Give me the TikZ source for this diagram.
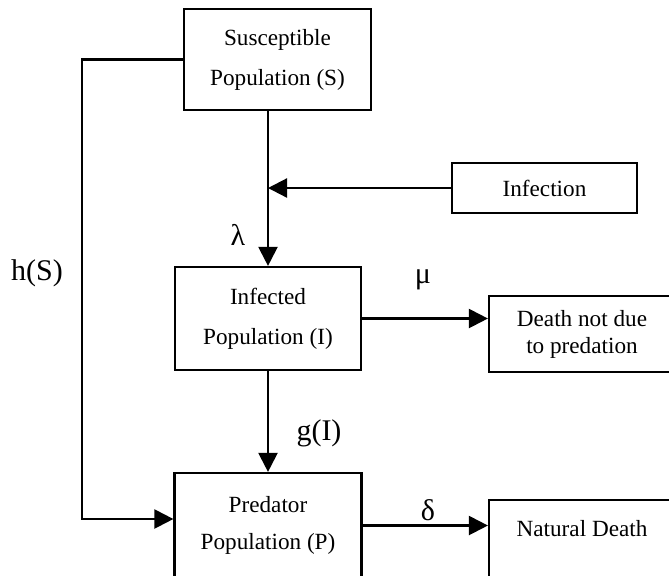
\documentclass[tikz,border=0pt]{standalone}
\usepackage{fontspec}
\setmainfont{Liberation Serif}
\usetikzlibrary{positioning, arrows.meta}

\begin{document}
\begin{tikzpicture}[x=0.5pt, y=-0.5pt,
  box/.style={draw, line width=1.1pt, align=center, inner sep=0pt, font=\fontsize{11.6}{20}\selectfont},
  arr/.style={line width=1.1pt, -{Triangle[length=9.5pt, width=9.5pt]}},
  lbl/.style={inner sep=0pt, font=\fontsize{15}{18}\selectfont}]
\useasboundingbox (0,0) rectangle (669,575);
\clip (0,0) rectangle (669,575);
% compartments
\node[box, minimum width=93.5pt, minimum height=50.5pt] (S) at (277.5,59.5) {Susceptible\\Population (S)};
\node[box, minimum width=93pt, minimum height=51.5pt] (I) at (268,318.5) {Infected\\Population (I)};
\node[box, minimum width=93.5pt, minimum height=52.5pt, font=\fontsize{11.6}{18.5}\selectfont] (P) at (268,525.5) {Predator\\Population (P)};
\node[box, minimum width=92.5pt, minimum height=25pt] (inf) at (544.5,188) {Infection};
\node[box, minimum width=93pt, minimum height=38pt, font=\fontsize{11.6}{13.5}\selectfont] (D) at (582,334) {Death not due\\to predation};
\node[box, minimum width=93pt, anchor=north, inner ysep=10pt, text height=8pt, text depth=22.5pt] (nd) at (582,499) {Natural Death};
% flows
\draw[arr] (S.south -| I.north) -- (I.north);
\draw[arr] (inf.west) -- (inf.west -| I.north);
\draw[arr] (I.east) -- (I.east -| D.west);
\draw[arr] (I.south) -- (P.north);
\draw[arr] (P.east) -- (P.east -| nd.west);
\coordinate (hk) at (82,519);
\draw[arr] (S.west) -| (hk) -- (hk -| P.west);
% rates
\node[lbl] (lam) at (238,235) {λ};
\node[lbl] (mu) at (423,280) {μ};
\node[lbl] (gI) at (319,433) {g(I)};
\node[lbl] (del) at (428,510) {δ};
\node[lbl] (hS) at (37,273) {h(S)};
\end{tikzpicture}
\end{document}
